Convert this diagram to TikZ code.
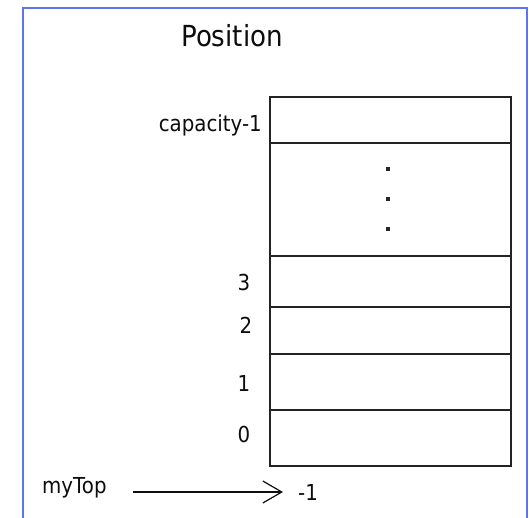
\documentclass[tikz,border=0pt]{standalone}
\usepackage{fontspec}
\setmainfont{DejaVu Sans}[FakeStretch=0.9]
\usetikzlibrary{arrows.meta}
\definecolor{frameblue}{RGB}{95,115,245}
\definecolor{cellline}{RGB}{35,35,35}
\tikzset{
  cell/.style={draw=cellline, line width=1.8pt, minimum width=241pt, inner sep=0pt, outer sep=0pt},
  lbl/.style={font=\fontsize{22pt}{26pt}\selectfont, inner sep=0pt, text=black!95},
  dotmark/.style={fill=black!85, inner sep=0pt, minimum size=3.4pt, shape=rectangle},
}
\begin{document}
\begin{tikzpicture}[x=1pt,y=-1pt]
\useasboundingbox (0,0) rectangle (529,518);
% frame
\draw[frameblue, line width=2.4pt] (23,519) -- (23,8) -- (527,8) -- (527,519);
% title
\node[font=\fontsize{29pt}{34pt}\selectfont, inner sep=0pt, text=black!95] (title) at (232,36) {Position};
% cells
\node[cell, minimum height=46pt, anchor=north west] (ccap) at (270,97) {};
\node[cell, minimum height=113pt, anchor=north west] (cdots) at (270,143) {};
\node[cell, minimum height=51pt, anchor=north west] (c3) at (270,256) {};
\node[cell, minimum height=47pt, anchor=north west] (c2) at (270,307) {};
\node[cell, minimum height=56pt, anchor=north west] (c1) at (270,354) {};
\node[cell, minimum height=56pt, anchor=north west] (c0) at (270,410) {};
% dots
\node[dotmark] (d1) at (388,169) {};
\node[dotmark] (d2) at (388,199) {};
\node[dotmark] (d3) at (388,229) {};
% labels
\node[lbl, anchor=east] (lcap) at (262,125) {capacity-1};
\node[lbl] (l3) at (244,282) {3};
\node[lbl] (l2) at (246,325) {2};
\node[lbl] (l1) at (244,383) {1};
\node[lbl] (l0) at (244,434) {0};
% myTop
\node[lbl, anchor=west] (mytop) at (42,488) {myTop};
\node[lbl, anchor=west] (minus) at (298,492) {-1};
\coordinate (as) at (133,492);
\coordinate (tip) at (283,492);
\draw[line width=1.5pt, black!95, -{Straight Barb[length=19pt,width=22pt,line width=1.2pt]}] (as) -- (tip);
\end{tikzpicture}
\end{document}
